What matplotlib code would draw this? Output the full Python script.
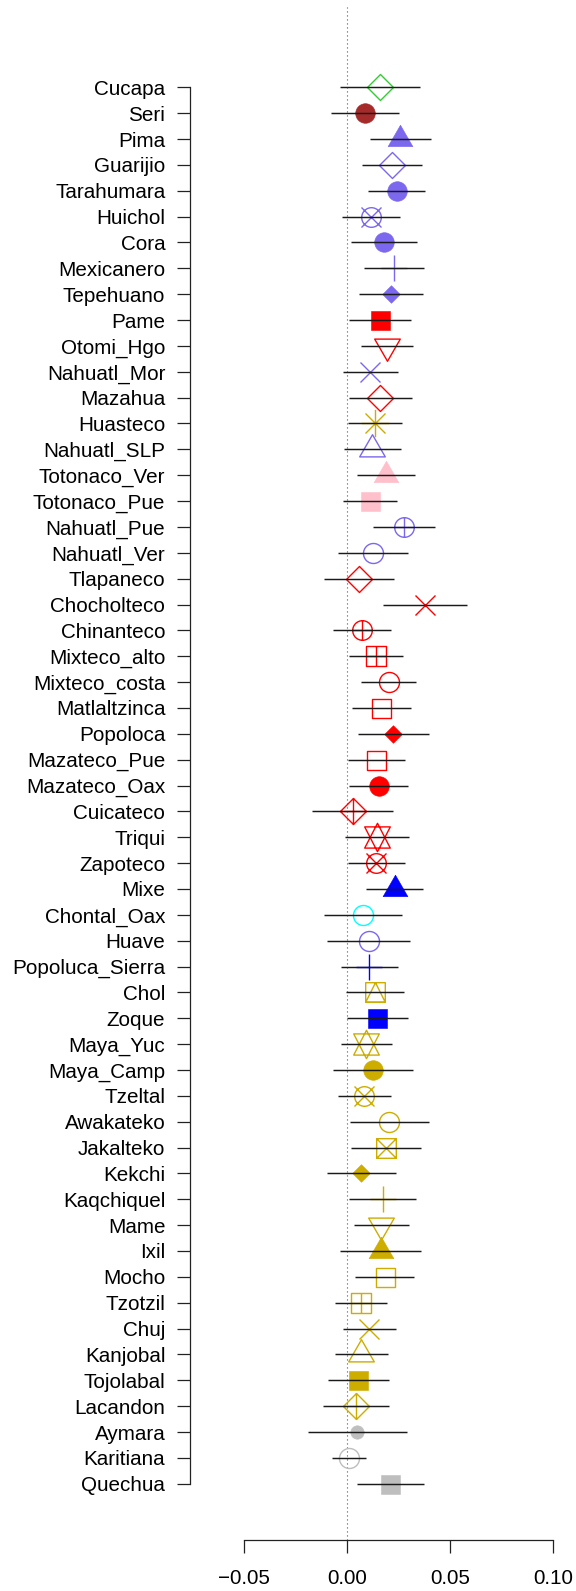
import numpy as np
import matplotlib
matplotlib.use("Agg")
import matplotlib.pyplot as plt
from matplotlib.path import Path

plt.rcParams['font.family'] = ['Liberation Sans', 'DejaVu Sans']

# ---------------- data ----------------
populations = ["Cucapa", "Seri", "Pima", "Guarijio", "Tarahumara", "Huichol", "Cora",
               "Mexicanero", "Tepehuano", "Pame", "Otomi_Hgo", "Nahuatl_Mor", "Mazahua",
               "Huasteco", "Nahuatl_SLP", "Totonaco_Ver", "Totonaco_Pue", "Nahuatl_Pue",
               "Nahuatl_Ver", "Tlapaneco", "Chocholteco", "Chinanteco", "Mixteco_alto",
               "Mixteco_costa", "Matlaltzinca", "Popoloca", "Mazateco_Pue", "Mazateco_Oax",
               "Cuicateco", "Triqui", "Zapoteco", "Mixe", "Chontal_Oax", "Huave",
               "Popoluca_Sierra", "Chol", "Zoque", "Maya_Yuc", "Maya_Camp", "Tzeltal",
               "Awakateko", "Jakalteko", "Kekchi", "Kaqchiquel", "Mame", "Ixil", "Mocho",
               "Tzotzil", "Chuj", "Kanjobal", "Tojolabal", "Lacandon", "Aymara",
               "Karitiana", "Quechua"]

estimate = [0.0160, 0.0087, 0.0259, 0.0218, 0.0241, 0.0117, 0.0180, 0.0227, 0.0214,
            0.0159, 0.0194, 0.0113, 0.0160, 0.0134, 0.0123, 0.0191, 0.0112, 0.0277,
            0.0125, 0.0058, 0.0379, 0.0073, 0.0141, 0.0202, 0.0167, 0.0225, 0.0142,
            0.0154, 0.0027, 0.0146, 0.0142, 0.0231, 0.0078, 0.0105, 0.0108, 0.0134,
            0.0146, 0.0094, 0.0126, 0.0084, 0.0205, 0.0189, 0.0068, 0.0173, 0.0167,
            0.0163, 0.0183, 0.0066, 0.0108, 0.0070, 0.0055, 0.0042, 0.0050, 0.0008,
            0.0209]

ci_low = [-0.0034, -0.0078, 0.0112, 0.0073, 0.0102, -0.0024, 0.0019, 0.0083, 0.0060,
          0.0008, 0.0070, -0.0021, 0.0008, 0.0003, -0.0015, 0.0050, -0.0021, 0.0126,
          -0.0045, -0.0112, 0.0175, -0.0070, 0.0011, 0.0070, 0.0023, 0.0052, 0.0007,
          0.0011, -0.0170, -0.0008, 0.0007, 0.0092, -0.0110, -0.0097, -0.0028, -0.0005,
          -0.0002, -0.0029, -0.0068, -0.0044, 0.0016, 0.0021, -0.0095, 0.0011, 0.0034,
          -0.0034, 0.0040, -0.0058, -0.0021, -0.0057, -0.0092, -0.0117, -0.0189, -0.0074,
          0.0047]

ci_high = [0.0354, 0.0251, 0.0408, 0.0362, 0.0380, 0.0257, 0.0340, 0.0374, 0.0367,
           0.0311, 0.0320, 0.0246, 0.0314, 0.0265, 0.0262, 0.0332, 0.0244, 0.0429,
           0.0296, 0.0227, 0.0584, 0.0215, 0.0274, 0.0335, 0.0312, 0.0400, 0.0282,
           0.0298, 0.0225, 0.0299, 0.0282, 0.0371, 0.0267, 0.0307, 0.0246, 0.0275,
           0.0294, 0.0217, 0.0319, 0.0214, 0.0396, 0.0358, 0.0236, 0.0337, 0.0301,
           0.0359, 0.0327, 0.0194, 0.0238, 0.0199, 0.0202, 0.0202, 0.0291, 0.0091,
           0.0374]

# R-style plotting symbols and colours per population
pch_codes = [5, 16, 17, 5, 16, 13, 16, 3, 18, 15, 6, 4, 5, 8, 2, 17, 15, 10, 1, 5, 4, 10,
             12, 1, 0, 18, 0, 16, 9, 11, 13, 17, 1, 1, 3, 14, 15, 11, 16, 13, 1, 7, 18, 3,
             6, 17, 0, 12, 4, 2, 15, 9, 20, 1, 15]

group_colors = ["green", "brown", "purple", "purple", "purple", "purple", "purple",
                "purple", "purple", "red", "red", "purple", "red", "gold", "purple",
                "pink", "pink", "purple", "purple", "red", "red", "red", "red", "red",
                "red", "red", "red", "red", "red", "red", "red", "blue", "cyan", "purple",
                "blue", "gold", "blue", "gold", "gold", "gold", "gold", "gold", "gold",
                "gold", "gold", "gold", "gold", "gold", "gold", "gold", "gold", "gold",
                "gray", "gray", "gray"]

x_ticks = [-0.05, 0.00, 0.05, 0.10]
x_tick_labels = ["\u22120.05", "0.00", "0.05", "0.10"]

palette = {"green": "#32CD32", "brown": "#A52A2A", "purple": "#7B68EE", "red": "#FF0000",
           "gold": "#CDAD00", "pink": "#FFC0CB", "blue": "#0000FF", "cyan": "#00FFFF",
           "gray": "#BEBEBE"}

# ---------------- marker geometry (in pixels) ----------------
PX = 0.72  # points per pixel at 100 dpi


def seg(x0, y0, x1, y1):
    return Path([(x0, y0), (x1, y1)], [Path.MOVETO, Path.LINETO])


def poly(pts):
    pts = list(pts)
    return Path(pts + [pts[0]], [Path.MOVETO] + [Path.LINETO] * (len(pts) - 1) + [Path.CLOSEPOLY])


def circ(r):
    return Path.circle((0, 0), r)


def square(h):
    return poly([(-h, -h), (h, -h), (h, h), (-h, h)])


def diamond(h):
    return poly([(0, -h), (h, 0), (0, h), (-h, 0)])


def plus(h):
    return Path.make_compound_path(seg(-h, 0, h, 0), seg(0, -h, 0, h))


def cross(h):
    return Path.make_compound_path(seg(-h, -h, h, h), seg(-h, h, h, -h))


def tri(hw, up=True):
    h = hw * np.sqrt(3)
    s = 1 if up else -1
    return poly([(0, s * 2 * h / 3), (-hw, -s * h / 3), (hw, -s * h / 3)])


def symbol(pch):
    """returns (path, filled)"""
    if pch == 0:
        return square(9.5), False
    if pch == 1:
        return circ(10.0), False
    if pch == 2:
        return tri(12.8, True), False
    if pch == 3:
        return plus(13.5), False
    if pch == 4:
        return cross(10.0), False
    if pch == 5:
        return diamond(13.0), False
    if pch == 6:
        return tri(12.8, False), False
    if pch == 7:
        return Path.make_compound_path(square(9.8), cross(9.8)), False
    if pch == 8:
        return Path.make_compound_path(plus(13.7), cross(10.0)), False
    if pch == 9:
        return Path.make_compound_path(diamond(13.0), plus(13.0)), False
    if pch == 10:
        return Path.make_compound_path(circ(9.8), plus(9.8)), False
    if pch == 11:
        r, hw, yc = 14.2, 12.8, 10.6
        t1 = poly([(0, -r), (hw, yc), (-hw, yc)])
        t2 = poly([(0, r), (hw, -yc), (-hw, -yc)])
        return Path.make_compound_path(t1, t2), False
    if pch == 12:
        return Path.make_compound_path(square(9.6), plus(9.6)), False
    if pch == 13:
        return Path.make_compound_path(circ(9.8), cross(10.0)), False
    if pch == 14:
        h = 9.8
        return Path.make_compound_path(square(h), poly([(0, h), (-h, -h), (h, -h)])), False
    if pch == 15:
        return square(9.5), True
    if pch == 16:
        return circ(9.8), True
    if pch == 17:
        return tri(12.4, True), True
    if pch == 18:
        return diamond(8.8), True
    if pch == 20:
        return circ(6.7), True
    return circ(10.0), False


# ---------------- figure ----------------
W, H = 576, 1591
fig = plt.figure(figsize=(W / 100, H / 100), dpi=100)

x_zero_px = 347.0
px_per_unit = 2060.0
row0_px = 87.3
row_step = 25.86
left_px = 190.0
axis_px = 1540.0

ax = fig.add_axes([left_px / W, (H - axis_px) / H, (W - left_px) / W, axis_px / H])
ax.set_xlim((left_px - x_zero_px) / px_per_unit, (W - x_zero_px) / px_per_unit)
ax.set_ylim((axis_px - row0_px) / row_step, (0 - row0_px) / row_step)

rows = np.arange(len(populations))

# dotted zero line
ax.axvline(0.0, ymin=0, ymax=1 - 7 / axis_px, color="#555555", lw=0.8,
           linestyle=(0, (1, 2.6)), zorder=1)

# points
for i, (est, pch, grp) in enumerate(zip(estimate, pch_codes, group_colors)):
    path, filled = symbol(pch)
    col = palette[grp]
    ms = 2 * np.abs(path.vertices).max() * PX
    ax.plot([est], [rows[i]], linestyle="none", marker=path, markersize=ms,
            markerfacecolor=col if filled else "none", markeredgecolor=col,
            markeredgewidth=0.4 if filled else 1.0, zorder=2, clip_on=False)

# confidence intervals
ax.hlines(rows, ci_low, ci_high, colors="#1a1a1a", linewidth=1.05, zorder=3)

# axes styling
for s in ["top", "right"]:
    ax.spines[s].set_visible(False)
ax.spines["left"].set_bounds(0, len(populations) - 1)
ax.spines["bottom"].set_bounds(x_ticks[0], x_ticks[-1])
for s in ["left", "bottom"]:
    ax.spines[s].set_linewidth(0.9)
    ax.spines[s].set_color("#222222")

ax.set_yticks(rows)
ax.set_yticklabels(populations, fontsize=14.9)
ax.set_xticks(x_ticks)
ax.set_xticklabels(x_tick_labels, fontsize=14.9)
ax.tick_params(axis="y", length=9.2, width=0.9, pad=8.6, color="#222222")
ax.tick_params(axis="x", length=9.4, width=0.9, pad=11.5, color="#222222")

fig.savefig("out.png", dpi=100)
